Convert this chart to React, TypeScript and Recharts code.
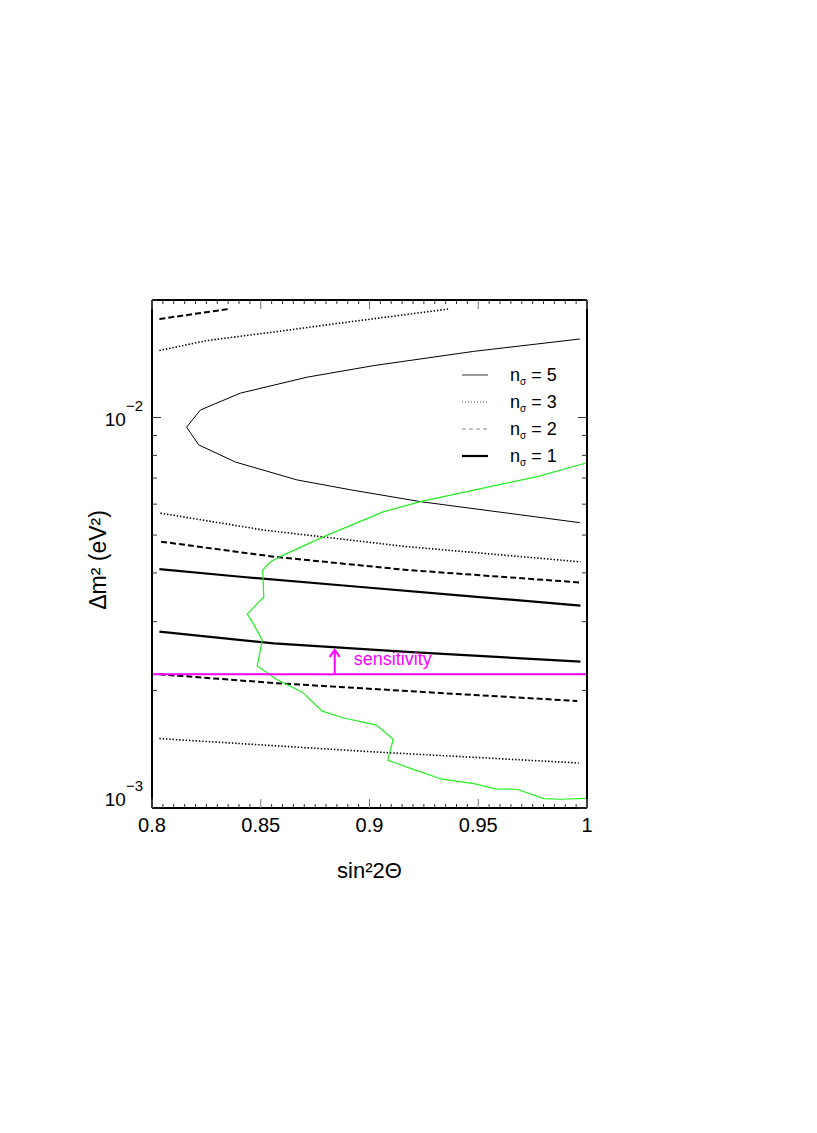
import React from 'react';
import { LineChart, Line, XAxis, YAxis, ReferenceLine } from 'recharts';

const FONT = '"Liberation Sans", Arial, Helvetica, sans-serif';

// axis ticks
const xMajorTicks = [0.8, 0.85, 0.9, 0.95, 1];
const xAllTicks = Array.from({ length: 41 }, (_, i) => Math.round((0.8 + i * 0.005) * 1000) / 1000);
const yMajorTicks = [0.001, 0.01];
const yAllTicks = [0.001, 0.002, 0.003, 0.004, 0.005, 0.006, 0.007, 0.008, 0.009, 0.01, 0.02];

// n_sigma = 5 (closed on the left)
const n5X = [0.9967, 0.9234, 0.8913, 0.8668, 0.8384, 0.8215, 0.8159, 0.8223, 0.8407, 0.8714, 0.9018, 0.9478, 0.9967];
const n5Y = [0.00538, 0.00609, 0.00653, 0.00692, 0.00769, 0.00851, 0.00945, 0.01046, 0.01155, 0.01269, 0.01358, 0.01477, 0.01589];

// n_sigma = 3
const n3TopX = [0.8034, 0.8254, 0.856, 0.8867, 0.9365];
const n3TopY = [0.01485, 0.01575, 0.01656, 0.01746, 0.01897];
const n3MidX = [0.8039, 0.8514, 0.9173, 0.997];
const n3MidY = [0.00569, 0.00515, 0.00467, 0.00427];
const n3LowX = [0.8034, 0.902, 0.9962];
const n3LowY = [0.001506, 0.001392, 0.001304];

// n_sigma = 2
const n2TopX = [0.8034, 0.8353];
const n2TopY = [0.01788, 0.01897];
const n2MidX = [0.8042, 0.856, 0.9173, 0.997];
const n2MidY = [0.00481, 0.0044, 0.00407, 0.00378];
const n2LowX = [0.8034, 0.856, 0.9326, 0.9955];
const n2LowY = [0.0022, 0.00209, 0.00197, 0.00188];

// n_sigma = 1
const n1TopX = [0.8034, 0.8407, 0.8867, 0.948, 0.997];
const n1TopY = [0.00409, 0.00391, 0.00372, 0.00348, 0.0033];
const n1LowX = [0.8034, 0.856, 0.9173, 0.997];
const n1LowY = [0.00283, 0.00264, 0.00251, 0.00237];

// green allowed region boundary
const greenX = [1.0, 0.9771, 0.9234, 0.9066, 0.8806, 0.8606, 0.8545, 0.8509, 0.8514, 0.8438, 0.8465, 0.8507, 0.8484, 0.8576, 0.8691,
  0.8783, 0.8882, 0.9032, 0.9109, 0.9084, 0.9127, 0.9204, 0.9334, 0.948, 0.9579, 0.9679, 0.9801, 0.9878, 1.0];
const greenY = [0.00766, 0.00706, 0.00609, 0.00574, 0.005, 0.00445, 0.00427, 0.00407, 0.00347, 0.00314, 0.00297, 0.00269, 0.00231, 0.00213, 0.00198,
  0.00177, 0.0017, 0.00163, 0.0015, 0.001325, 0.0013, 0.001254, 0.001185, 0.001155, 0.00112, 0.001117, 0.001057, 0.001053, 0.001059];

// sensitivity
const sensitivityLevel = 0.0022;
const arrowX = [0.884, 0.884];
const arrowY = [0.0022, 0.00254];

const legendLabels = ['5', '3', '2', '1'];

const zip = (xs: number[], ys: number[]) => xs.map((x, i) => ({ x, y: ys[i] }));

const curves = [
  { id: 'n5', data: zip(n5X, n5Y), stroke: '#000', width: 1, dash: undefined },
  { id: 'n3a', data: zip(n3TopX, n3TopY), stroke: '#000', width: 1.6, dash: '1.4 1.9' },
  { id: 'n3b', data: zip(n3MidX, n3MidY), stroke: '#000', width: 1.6, dash: '1.4 1.9' },
  { id: 'n3c', data: zip(n3LowX, n3LowY), stroke: '#000', width: 1.6, dash: '1.4 1.9' },
  { id: 'n2a', data: zip(n2TopX, n2TopY), stroke: '#000', width: 2, dash: '6 3' },
  { id: 'n2b', data: zip(n2MidX, n2MidY), stroke: '#000', width: 2, dash: '6 3' },
  { id: 'n2c', data: zip(n2LowX, n2LowY), stroke: '#000', width: 2, dash: '6 3' },
  { id: 'n1a', data: zip(n1TopX, n1TopY), stroke: '#000', width: 2.2, dash: undefined },
  { id: 'n1b', data: zip(n1LowX, n1LowY), stroke: '#000', width: 2.2, dash: undefined },
];

const legendStyles = [
  { stroke: '#9a9a9a', width: 2, dash: undefined },
  { stroke: '#444', width: 1, dash: '1 2' },
  { stroke: '#888', width: 1, dash: '4 3' },
  { stroke: '#000', width: 2.2, dash: undefined },
];

const frame = { stroke: '#000', strokeWidth: 2 };

const isMajor = (v: number, list: number[]) => list.some((m) => Math.abs(m - v) < 1e-9);

const BottomTick = (props: any) => {
  const { x, y, payload } = props;
  const major = isMajor(payload.value, xMajorTicks);
  return (
    <g>
      <line x1={x} x2={x} y1={y} y2={y - (major ? 9 : 4)} stroke={major ? '#777' : '#333'} />
      {major && (
        <text x={x} y={y + 24} textAnchor="middle" fontSize={20} fontFamily={FONT} fill="#000">
          {String(payload.value)}
        </text>
      )}
    </g>
  );
};

const TopTick = (props: any) => {
  const { x, y, payload } = props;
  const major = isMajor(payload.value, xMajorTicks);
  return <line x1={x} x2={x} y1={y} y2={y + (major ? 9 : 4)} stroke={major ? '#777' : '#333'} />;
};

const LeftTick = (props: any) => {
  const { x, y, payload } = props;
  const major = isMajor(payload.value, yMajorTicks);
  const exp = Math.round(Math.log10(payload.value));
  const dy = exp === -3 ? -2 : 8;
  return (
    <g>
      <line x1={x} x2={x + (major ? 9 : 5)} y1={y} y2={y} stroke="#333" />
      {major && (
        <text x={x - 9} y={y + dy} textAnchor="end" fontSize={19} fontFamily={FONT} fill="#000">
          10<tspan dy={-15} fontSize={15}>{'\u2212' + Math.abs(exp)}</tspan>
        </text>
      )}
    </g>
  );
};

const RightTick = (props: any) => {
  const { x, y, payload } = props;
  const major = isMajor(payload.value, yMajorTicks);
  return <line x1={x} x2={x - (major ? 9 : 5)} y1={y} y2={y} stroke="#333" />;
};

const ArrowHead = (props: any) => {
  const { cx, cy, index } = props;
  if (index !== 1) return <g />;
  return (
    <g>
      <polyline points={`${cx - 5},${cy + 7} ${cx},${cy} ${cx + 5},${cy + 7}`} fill="none" stroke="#ff00ff" strokeWidth={2} />
      <text x={cx + 19} y={cy + 15} fontSize={18} fontFamily={FONT} fill="#ff00ff">sensitivity</text>
    </g>
  );
};

const XTitle = (props: any) => {
  const vb = props.viewBox;
  return (
    <text x={vb.x + vb.width / 2} y={vb.y + 70} textAnchor="middle" fontSize={22} fontFamily={FONT} fill="#000">
      sin²2Θ
    </text>
  );
};

const YTitle = (props: any) => {
  const vb = props.viewBox;
  const cx = vb.x + 14;
  const cy = vb.y + vb.height / 2 + 6;
  return (
    <text x={cx} y={cy} transform={`rotate(-90 ${cx} ${cy})`} textAnchor="middle" fontSize={23} fontFamily={FONT} fill="#000">
      Δm² (eV²)
    </text>
  );
};

export default function App() {
  const W = 800;
  const H = 1100;
  return (
    <div style={{ position: 'relative', width: W, height: H, fontFamily: FONT }}>
      <LineChart width={W} height={H} margin={{ top: 291, right: 220, bottom: 260, left: 84 }}>
        <XAxis xAxisId="top" orientation="top" dataKey="x" type="number" domain={[0.8, 1]} allowDataOverflow
          ticks={xAllTicks} interval={0} height={1} tickLine={false} tickSize={0} tickMargin={0} axisLine={frame} tick={<TopTick />} />
        <YAxis yAxisId="right" orientation="right" scale="log" type="number" domain={[0.001, 0.02]} allowDataOverflow
          ticks={yAllTicks} interval={0} width={1} tickLine={false} tickSize={0} tickMargin={0} axisLine={frame} tick={<RightTick />} />
        <XAxis dataKey="x" type="number" domain={[0.8, 1]} allowDataOverflow ticks={xAllTicks} interval={0}
          height={40} tickLine={false} tickSize={0} tickMargin={0} axisLine={frame} tick={<BottomTick />} label={<XTitle />} />
        <YAxis scale="log" type="number" domain={[0.001, 0.02]} allowDataOverflow ticks={yAllTicks} interval={0}
          width={60} tickLine={false} tickSize={0} tickMargin={0} axisLine={frame} tick={<LeftTick />} label={<YTitle />} />

        {curves.map((c) => (
          <Line key={c.id} data={c.data} dataKey="y" type="linear" stroke={c.stroke} strokeWidth={c.width}
            strokeDasharray={c.dash} dot={false} activeDot={false} isAnimationActive={false} />
        ))}
        <Line data={zip(greenX, greenY)} dataKey="y" type="linear" stroke="#22ee22" strokeWidth={1.2}
          dot={false} activeDot={false} isAnimationActive={false} />
        <ReferenceLine y={sensitivityLevel} stroke="#ff00ff" strokeWidth={2} />
        <Line data={zip(arrowX, arrowY)} dataKey="y" type="linear" stroke="#ff00ff" strokeWidth={2}
          dot={<ArrowHead />} activeDot={false} isAnimationActive={false} />
      </LineChart>

      <svg width={W} height={H} style={{ position: 'absolute', left: 0, top: 0, pointerEvents: 'none' }}>
        {legendLabels.map((lab, i) => {
          const rowY = 367 + i * 27;
          const s = legendStyles[i];
          return (
            <g key={lab}>
              <line x1={454} x2={480} y1={rowY} y2={rowY} stroke={s.stroke} strokeWidth={s.width} strokeDasharray={s.dash} />
              <text x={502} y={rowY + 6} fontSize={18} fontFamily={FONT} fill="#000">
                n<tspan fontSize={10} dy={4}>σ</tspan><tspan dy={-4}>{' = ' + lab}</tspan>
              </text>
            </g>
          );
        })}
      </svg>
    </div>
  );
}
